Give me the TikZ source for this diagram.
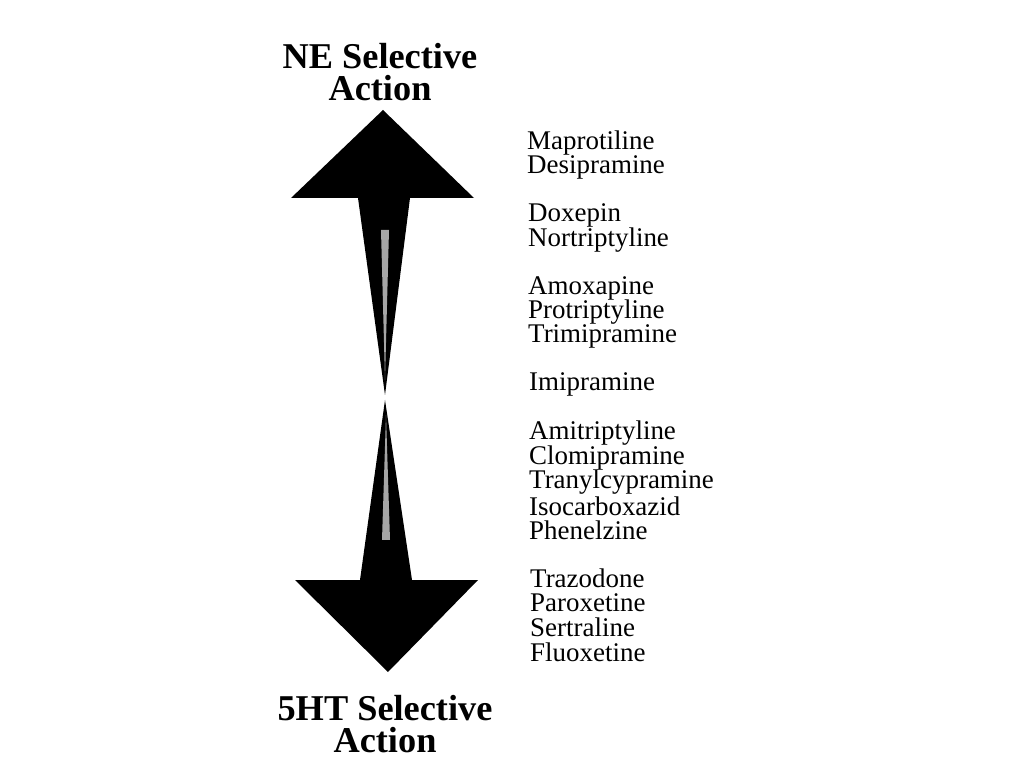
\documentclass[tikz,border=0pt]{standalone}
\usepackage{fontspec}
\setmainfont{Liberation Serif}
\begin{document}
\begin{tikzpicture}[
    x=0.03cm, y=-0.03cm,
    title/.style={align=center, font=\fontsize{31}{28}\selectfont\bfseries},
    drug/.style={anchor=west, inner sep=0pt, font=\fontsize{23}{20}\selectfont}
]
\useasboundingbox (0,0) rectangle (1024,768);

% NE arrow
\fill[black] (383,110) -- (474,198) -- (410,198) -- (385,395) -- (358,198) -- (291,198) -- cycle;
\fill[black!35] (381,230) -- (389,230) -- (385,380) -- cycle;

% 5HT arrow
\fill[black] (388,672) -- (478,580) -- (412,580) -- (385,400) -- (360,580) -- (295,580) -- cycle;
\fill[black!35] (382,540) -- (390,540) -- (386,415) -- cycle;

% Labels
\node[title] (ne) at (380,72) {NE Selective\\Action};
\node[title] (ht) at (385,724) {5HT Selective\\Action};

% Drugs
\foreach \name/\x/\y [count=\i] in {Maprotiline/527/143, Desipramine/527/167,
    Doxepin/528/215, Nortriptyline/528/240,
    Amoxapine/528/288, Protriptyline/528/312, Trimipramine/528/336,
    Imipramine/529/384,
    Amitriptyline/529/433, Clomipramine/529/458, Tranylcypramine/529/482, Isocarboxazid/529/506, Phenelzine/529/530,
    Trazodone/530/578, Paroxetine/530/603, Sertraline/530/627, Fluoxetine/530/652}
  \node[drug] (drug\i) at (\x,\y) {\name};

\end{tikzpicture}
\end{document}
